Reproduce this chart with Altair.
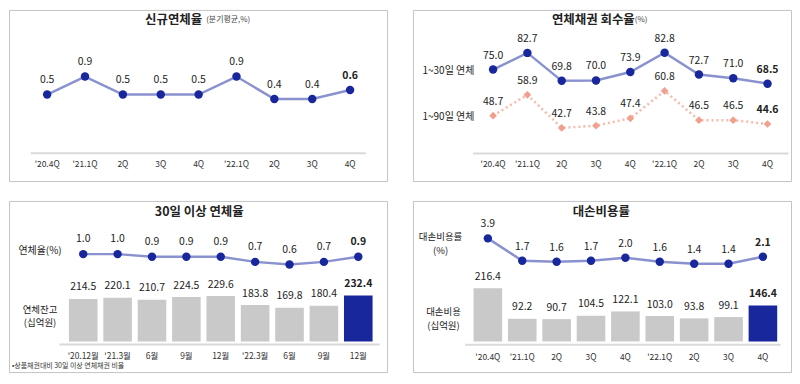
import altair as alt
import pandas as pd

# ---------------- data ----------------
q_labels = ["'20.4Q", "'21.1Q", "2Q", "3Q", "4Q", "'22.1Q", "2Q", "3Q", "4Q"]
m_labels = ["'20.12월", "'21.3월", "6월", "9월", "12월", "'22.3월", "6월", "9월", "12월"]
new_delinq = [0.5, 0.9, 0.5, 0.5, 0.5, 0.9, 0.4, 0.4, 0.6]
rec_30 = [75.0, 82.7, 69.8, 70.0, 73.9, 82.8, 72.7, 71.0, 68.5]
rec_90 = [48.7, 58.9, 42.7, 43.8, 47.4, 60.8, 46.5, 46.5, 44.6]
over30_rate = [1.0, 1.0, 0.9, 0.9, 0.9, 0.7, 0.6, 0.7, 0.9]
over30_bal = [214.5, 220.1, 210.7, 224.5, 229.6, 183.8, 169.8, 180.4, 232.4]
loss_rate = [3.9, 1.7, 1.6, 1.7, 2.0, 1.6, 1.4, 1.4, 2.1]
loss_cost = [216.4, 92.2, 90.7, 104.5, 122.1, 103.0, 93.8, 99.1, 146.4]

# ---------------- style / layout ----------------
W, H = 380, 172
SX = W / 383.5
SY_T = H / 178
SY_B = H / 177
FONT = "Noto Sans CJK KR"
NAVY = "#18279b"
LINE_BLUE = "#8a91cf"
PINK = "#f2a08e"
PINK_LINE = "#f7b9aa"
GRAY_BAR = "#c9c9c9"
AXIS_GRAY = "#d9d9d9"
TXT = "#222222"

IDX = list(range(9))


def xscale(c0, c8, bw=29.0):
    step = (c8 - c0) / 8 * SX
    left = c0 * SX - step / 2
    right = c8 * SX + step / 2
    pi = 1 - bw * SX / step
    return alt.Scale(type="band", domain=IDX, range=[left, right],
                     paddingInner=pi, paddingOuter=pi / 2)


def yscale(v_lo, y_lo, v_hi, y_hi, sy):
    return alt.Scale(domain=[v_lo, v_hi], range=[y_lo * sy, y_hi * sy],
                     zero=False, nice=False)


def fixed_text(txt, x, y, sy, size=10, weight="normal", align="center", color=TXT):
    return alt.Chart(pd.DataFrame({"t": [txt]})).mark_text(
        font=FONT, fontSize=size, fontWeight=weight, align=align,
        baseline="middle", color=color
    ).encode(text="t:N", x=alt.value(x * SX), y=alt.value(y * sy))


def axis_rule(x0, x1, y, sy):
    return alt.Chart(pd.DataFrame({"a": [0]})).mark_rule(
        color=AXIS_GRAY, strokeWidth=2
    ).encode(x=alt.value(x0 * SX), x2=alt.value(x1 * SX), y=alt.value(y * sy))


def cat_labels(df, xs, y, sy):
    return alt.Chart(df).mark_text(
        font=FONT, fontSize=8.5, color="#333333", baseline="middle"
    ).encode(x=alt.X("i:O", scale=xs, axis=None), y=alt.value(y * sy), text="lab:N")


def line_layers(df, field, xs, ys, dy, color=NAVY, line_color=LINE_BLUE,
                dash=None, diamond=False):
    base = alt.Chart(df).encode(
        x=alt.X("i:O", scale=xs, axis=None),
        y=alt.Y(f"{field}:Q", scale=ys, axis=None),
    )
    lk = dict(color=line_color, strokeWidth=2.5)
    if dash:
        lk["strokeDash"] = dash
    line = base.mark_line(**lk)
    if diamond:
        pts = base.mark_point(shape="diamond", filled=True, size=60, color=color, opacity=1)
    else:
        pts = base.mark_circle(size=72, color=color, opacity=1)
    lab = base.transform_filter("datum.i < 8").mark_text(
        font=FONT, fontSize=10.5, color=TXT, dy=dy, baseline="middle"
    ).encode(text=alt.Text(f"{field}:Q", format=".1f"))
    lab_last = base.transform_filter("datum.i == 8").mark_text(
        font=FONT, fontSize=10.5, fontWeight="bold", color=TXT, dy=dy, baseline="middle"
    ).encode(text=alt.Text(f"{field}:Q", format=".1f"))
    return [line, pts, lab, lab_last]


def bar_layers(df, field, xs, ys, dy):
    base = alt.Chart(df).encode(
        x=alt.X("i:O", scale=xs, axis=None),
        y=alt.Y(f"{field}:Q", scale=ys, axis=None),
    )
    bars = base.mark_bar().encode(
        color=alt.condition("datum.i == 8", alt.value(NAVY), alt.value(GRAY_BAR))
    )
    lab = base.transform_filter("datum.i < 8").mark_text(
        font=FONT, fontSize=10.5, color=TXT, dy=dy, baseline="middle"
    ).encode(text=alt.Text(f"{field}:Q", format=".1f"))
    lab_last = base.transform_filter("datum.i == 8").mark_text(
        font=FONT, fontSize=10.5, fontWeight="bold", color=TXT, dy=dy, baseline="middle"
    ).encode(text=alt.Text(f"{field}:Q", format=".1f"))
    return [bars, lab, lab_last]


# ---------------- panel 1: 신규연체율 ----------------
df1 = pd.DataFrame({"i": IDX, "lab": q_labels, "v": new_delinq})
xs1 = xscale(38.7, 346)
ys1 = yscale(0.5, 88, 0.9, 69.3, SY_T)
p1 = alt.layer(
    fixed_text("신규연체율", 196, 10, SY_T, size=12.5, weight="bold", align="right"),
    fixed_text("(분기평균,%)", 200, 11, SY_T, size=8, align="left", color="#444444"),
    axis_rule(22, 362, 149, SY_T),
    cat_labels(df1, xs1, 160, SY_T),
    *line_layers(df1, "v", xs1, ys1, -14.5),
).resolve_scale(y="independent").properties(width=W, height=H)

# ---------------- panel 2: 연체채권 회수율 ----------------
df2 = pd.DataFrame({"i": IDX, "lab": q_labels, "a": rec_30, "b": rec_90})
xs2 = xscale(81.3, 359.7)
ys2a = yscale(68.5, 76.7, 82.7, 44.7, SY_T)
ys2b = yscale(42.7, 122.7, 60.8, 84.3, SY_T)
p2 = alt.layer(
    fixed_text("연체채권 회수율", 225, 10, SY_T, size=12.5, weight="bold", align="right"),
    fixed_text("(%)", 225, 11, SY_T, size=8, align="left", color="#444444"),
    fixed_text("1~30일 연체", 36, 63.3, SY_T, size=10),
    fixed_text("1~90일 연체", 36, 111, SY_T, size=10),
    axis_rule(61, 381, 149.3, SY_T),
    cat_labels(df2, xs2, 160, SY_T),
    *line_layers(df2, "b", xs2, ys2b, -14, color=PINK, line_color=PINK_LINE,
                 dash=[2, 3], diamond=True),
    *line_layers(df2, "a", xs2, ys2a, -14),
).resolve_scale(y="independent").properties(width=W, height=H)

# ---------------- panel 3: 30일 이상 연체율 ----------------
df3 = pd.DataFrame({"i": IDX, "lab": m_labels, "r": over30_rate, "b": over30_bal})
xs3 = xscale(75.3, 354.3)
ys3r = yscale(0.6, 65.7, 1.0, 55, SY_B)
ys3b = yscale(0, 145.3, 232.4, 97.7, SY_B)
p3 = alt.layer(
    fixed_text("30일 이상 연체율", 193, 11, SY_B, size=12.5, weight="bold"),
    fixed_text("연체율(%)", 31.5, 51.3, SY_B, size=10),
    fixed_text("연체잔고", 31.5, 112.5, SY_B, size=9.5),
    fixed_text("(십억원)", 31.5, 126.5, SY_B, size=9.5),
    fixed_text("•상품채권대비 30일 이상 연체채권 비율", 3, 171, SY_B, size=7,
               align="left", color="#333333"),
    axis_rule(51, 376, 148.5, SY_B),
    cat_labels(df3, xs3, 160.3, SY_B),
    *bar_layers(df3, "b", xs3, ys3b, -11.5),
    *line_layers(df3, "r", xs3, ys3r, -15),
).resolve_scale(y="independent").properties(width=W, height=H)

# ---------------- panel 4: 대손비용률 ----------------
df4 = pd.DataFrame({"i": IDX, "lab": q_labels, "r": loss_rate, "b": loss_cost})
xs4 = xscale(76, 355)
ys4r = yscale(1.4, 65, 3.9, 38.7, SY_B)
ys4b = yscale(0, 145.3, 216.4, 90.3, SY_B)
p4 = alt.layer(
    fixed_text("대손비용률", 191, 11, SY_B, size=12.5, weight="bold"),
    fixed_text("대손비용률", 28, 37.5, SY_B, size=9.5),
    fixed_text("(%)", 28, 51.5, SY_B, size=9.5),
    fixed_text("대손비용", 31, 115, SY_B, size=9.5),
    fixed_text("(십억원)", 31, 129, SY_B, size=9.5),
    axis_rule(53, 373, 148.7, SY_B),
    cat_labels(df4, xs4, 161, SY_B),
    *bar_layers(df4, "b", xs4, ys4b, -11.5),
    *line_layers(df4, "r", xs4, ys4r, -14),
).resolve_scale(y="independent").properties(width=W, height=H)

chart = alt.vconcat(
    alt.hconcat(p1, p2, spacing=24),
    alt.hconcat(p3, p4, spacing=24),
    spacing=18,
).properties(padding=0, background="white").configure_view(
    stroke="#c4c4c4", strokeWidth=1
).configure_text(font=FONT)

chart.save("out.html", embed_options={"renderer": "svg", "actions": False})
